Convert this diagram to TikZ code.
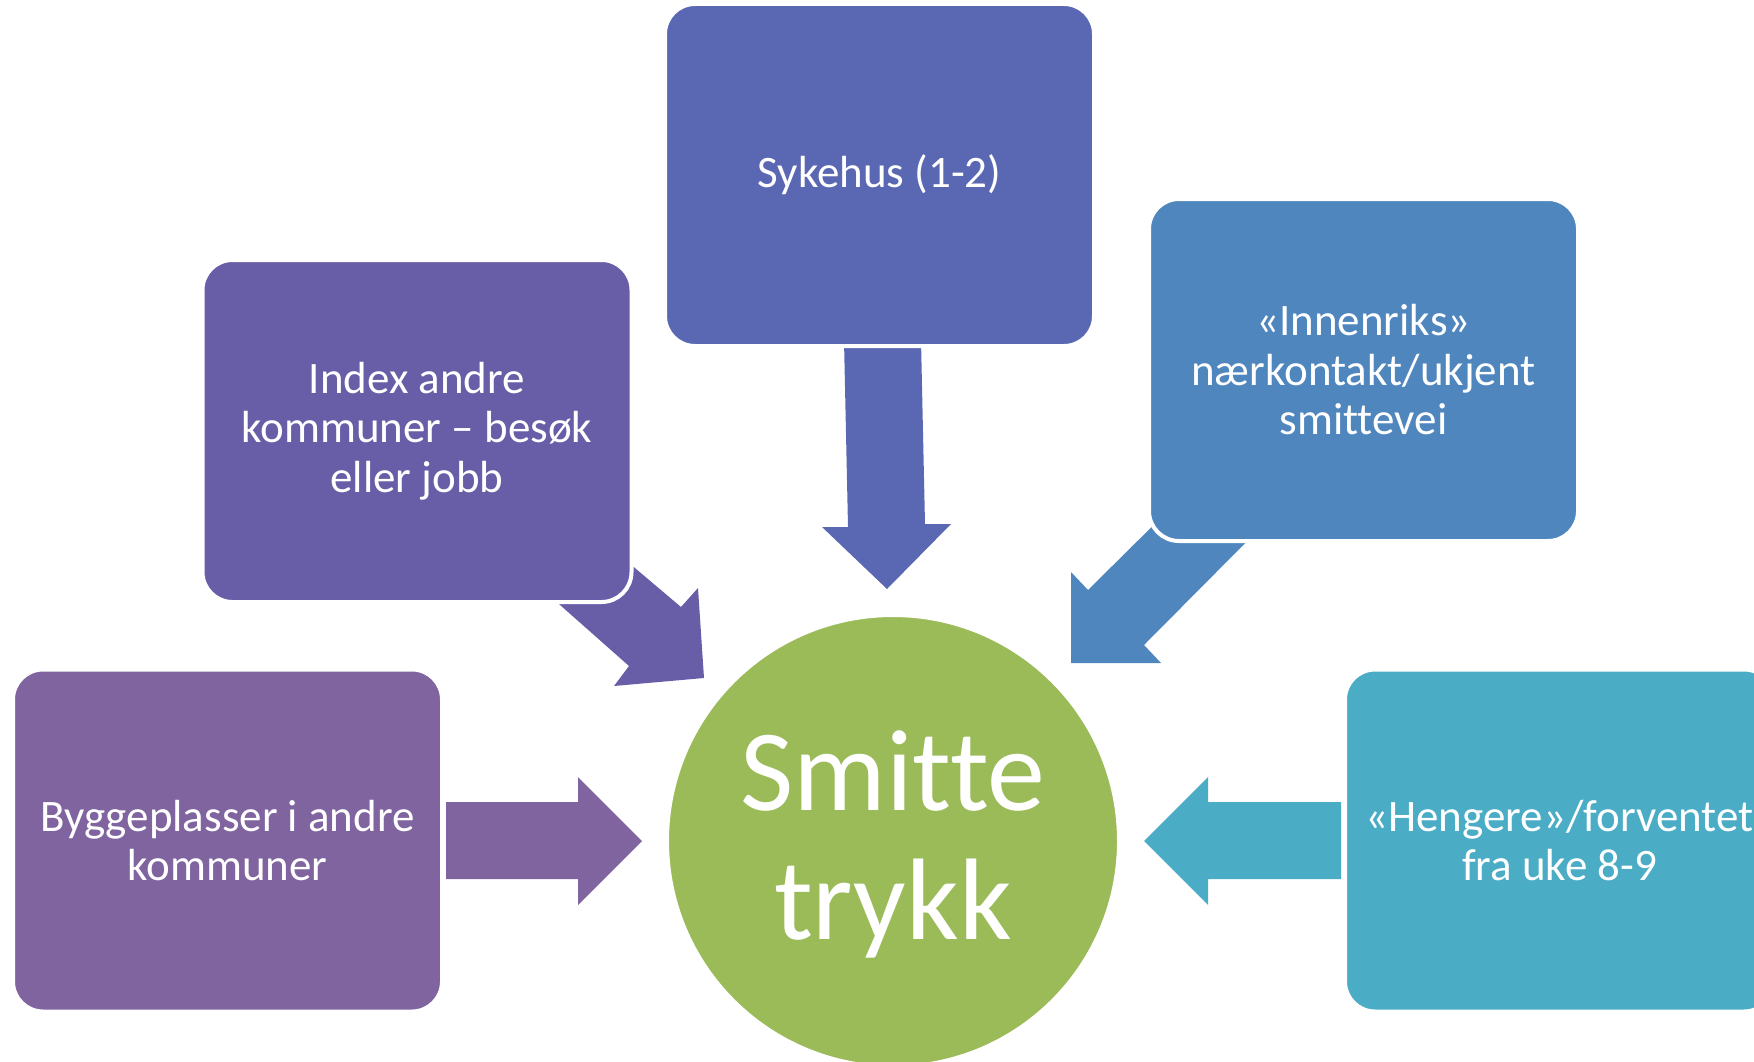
\documentclass[tikz,border=0pt]{standalone}
\usepackage{fontspec}
\setmainfont{Carlito}[Ligatures={NoCommon}]
\definecolor{cSyk}{HTML}{5A68B3}
\definecolor{cIdx}{HTML}{685EA8}
\definecolor{cByg}{HTML}{8064A0}
\definecolor{cInn}{HTML}{5086BE}
\definecolor{cHen}{HTML}{4BACC6}
\definecolor{cHub}{HTML}{9BBB59}
\tikzset{
  box/.style={rectangle, rounded corners=30pt, draw=white, line width=4pt,
    minimum width=429pt, minimum height=342pt, inner sep=0pt, text=white,
    font=\fontsize{45}{49.5}\selectfont, align=center},
  hubstyle/.style={circle, draw=white, line width=4pt, fill=cHub,
    minimum size=452pt, inner sep=0pt},
  hubtext/.style={text=white, font=\fontsize{116}{129}\selectfont, align=center, inner sep=0pt},
  blockarrow/.style={draw=none}
}
\begin{document}
\begin{tikzpicture}[x=1pt,y=-1pt]
\useasboundingbox (0,0) rectangle (1754,1062);
\clip (0,0) rectangle (1754,1062);
% block arrows (behind boxes)
\fill[cSyk, blockarrow] (844,340) -- (921,340) -- (925,524) -- (951,524) -- (887,589) -- (822,527) -- (848,527) -- cycle;
\fill[cIdx, blockarrow] (516,566) -- (629,666) -- (614,686) -- (704,678) -- (698,588) -- (681,607) -- (590,530) -- cycle;
\fill[cInn, blockarrow] (1191,488) -- (1088,590) -- (1071,572) -- (1071,663) -- (1161,663) -- (1144,645) -- (1283,505) -- cycle;
\fill[cByg, blockarrow] (446,802) -- (578,802) -- (578,777) -- (642,841) -- (578,905) -- (578,879) -- (446,879) -- cycle;
\fill[cHen, blockarrow] (1341,802) -- (1208,802) -- (1208,777) -- (1144,841) -- (1208,905) -- (1208,879) -- (1341,879) -- cycle;
% boxes
\node[box, fill=cSyk] (syk) at (879.5,175) {Sykehus (1-2)};
\node[box, fill=cIdx] (idx) at (417,431) {Index andre\\kommuner – besøk\\eller jobb};
\node[box, fill=cInn] (inn) at (1363.5,370) {«Innenriks»\\nærkontakt/ukjent\\smittevei};
\node[box, fill=cByg] (byg) at (227.5,840.5) {Byggeplasser i andre\\kommuner};
\node[box, fill=cHen] (hen) at (1559.5,840.5) {«Hengere»/forventet\\fra uke 8-9};
% hub
\node[hubstyle] (hub) at (893,841) {};
\node[hubtext] (hubtxt) at (893,844) {Smitte\\trykk};
\end{tikzpicture}
\end{document}
